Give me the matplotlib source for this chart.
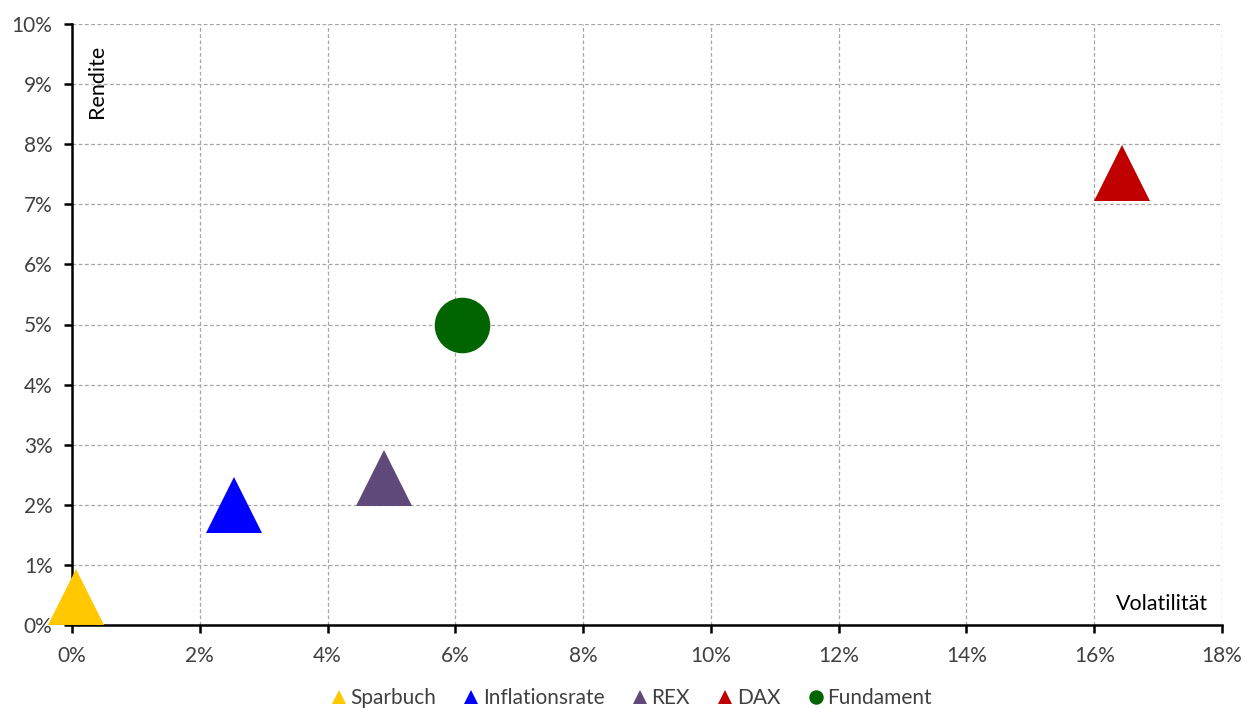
import matplotlib
matplotlib.use("Agg")
import matplotlib.pyplot as plt
from matplotlib.ticker import FuncFormatter, MultipleLocator

plt.rcParams["font.family"] = ["Lato", "DejaVu Sans"]

# data (volatility %, return %)
names = ["Sparbuch", "Inflationsrate", "REX", "DAX", "Fundament"]
volatility = [0.06, 2.54, 4.88, 16.43, 6.10]
returns = [0.47, 2.00, 2.45, 7.52, 5.00]
markers = ["^", "^", "^", "^", "o"]
colors = ["#FFC800", "#0000FF", "#604A7B", "#C00000", "#006400"]

fig = plt.figure(figsize=(12.55, 7.09), dpi=100)
ax = fig.add_axes([72 / 1255, 1 - 625 / 709, 1150 / 1255, 601 / 709])

for n, x, y, m, c in zip(names, volatility, returns, markers, colors):
    ax.plot(x, y, linestyle="none", marker=m, markersize=40, color=c,
            markeredgewidth=0, label=n, clip_on=False, zorder=3)

ax.set_xlim(0, 18)
ax.set_ylim(0, 10)
ax.xaxis.set_major_locator(MultipleLocator(2))
ax.yaxis.set_major_locator(MultipleLocator(1))
pct = FuncFormatter(lambda v, _: f"{v:.0f}%")
ax.xaxis.set_major_formatter(pct)
ax.yaxis.set_major_formatter(pct)

ax.grid(True, linestyle=(0, (3, 2)), color="#A6A6A6", linewidth=0.9)
ax.set_axisbelow(True)
for s in ["top", "right"]:
    ax.spines[s].set_visible(False)
for s in ["left", "bottom"]:
    ax.spines[s].set_linewidth(1.8)
    ax.spines[s].set_color("black")
ax.tick_params(direction="out", length=6, width=1.8, color="black",
               labelsize=15, labelcolor="#404040")
ax.tick_params(axis="x", pad=9)
ax.tick_params(axis="y", pad=8)

ax.text(0.022, 0.965, "Rendite", transform=ax.transAxes, rotation=90,
        ha="center", va="top", fontsize=15.5, color="black")
ax.text(0.988, 0.018, "Volatilität", transform=ax.transAxes,
        ha="right", va="bottom", fontsize=15.5, color="black")

leg = ax.legend(loc="upper center", bbox_to_anchor=(0.487, -0.091), ncol=5,
                frameon=False, fontsize=15, markerscale=0.26,
                handlelength=0.6, handletextpad=0.25, columnspacing=1.4,
                borderaxespad=0)
for t in leg.get_texts():
    t.set_color("#404040")

fig.savefig("out.png", dpi=100)
